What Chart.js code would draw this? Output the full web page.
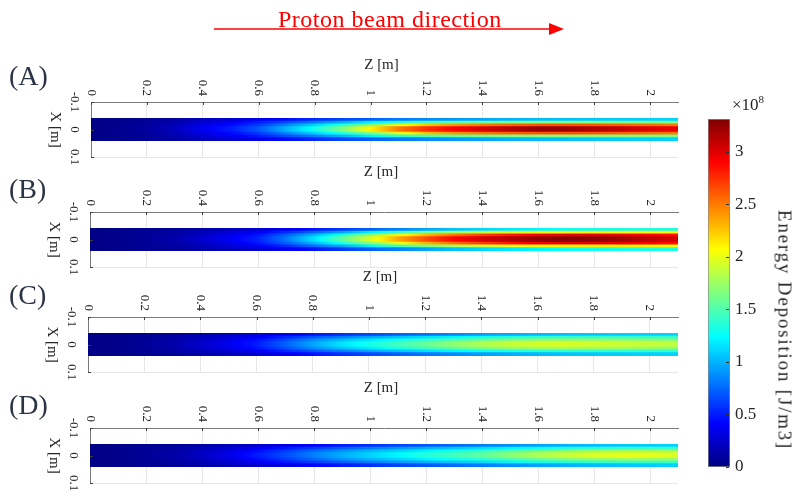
<!DOCTYPE html>
<html>
<head>
<meta charset="utf-8">
<script src="https://cdn.jsdelivr.net/npm/chart.js@4.4.0/dist/chart.umd.min.js"></script>
<style>
html, body { margin: 0; padding: 0; background: #fff; }
#wrap { position: relative; width: 795px; height: 493px; overflow: hidden; font-family: "Liberation Serif", serif; }
#wrap canvas { position: absolute; left: 0; top: 0; }
.txt { position: absolute; white-space: nowrap; }
#title { left: 278px; top: 7px; font-size: 24px; line-height: 24px; color: #ff0000; letter-spacing: 0.5px; }
#exp { left: 732px; top: 96px; font-size: 17px; line-height: 17px; color: #262626; }
#exp span { font-size: 11px; position: relative; top: -7px; }
#cbl { left: 785px; top: 330px; font-size: 19px; line-height: 19px; color: #262626; letter-spacing: 1.8px;
       transform: translate(-50%, -50%) rotate(90deg); }
</style>
</head>
<body>
<div id="wrap">
  <canvas id="pA" width="795" height="493"></canvas>
  <canvas id="pB" width="795" height="493"></canvas>
  <canvas id="pC" width="795" height="493"></canvas>
  <canvas id="pD" width="795" height="493"></canvas>
  <canvas id="cbar" width="795" height="493"></canvas>
  <svg width="795" height="60" style="position:absolute;left:0;top:0">
    <line x1="214" y1="29" x2="552" y2="29" stroke="#ff0000" stroke-width="1.5"/>
    <polygon points="549,23 564,29 549,35" fill="#ff0000"/>
  </svg>
  <div class="txt" id="title">Proton beam direction</div>
  <div class="txt" id="exp">×10<span>8</span></div>
  <div class="txt" id="cbl">Energy Deposition [J/m3]</div>
</div>
<script>
// Z positions (m) where the beam was sampled
const zPos = [0, 0.1, 0.2, 0.3, 0.4, 0.5, 0.6, 0.7, 0.8, 0.9, 1.0, 1.1, 1.2, 1.3, 1.4, 1.5, 1.6, 1.7, 1.8, 1.9, 2.0, 2.1];
// transverse row centres |X| (m), centre -> edge, mirrored about X = 0
const xRows = [0.005, 0.015, 0.025, 0.035];
const zTicks = [0, 0.2, 0.4, 0.6, 0.8, 1, 1.2, 1.4, 1.6, 1.8, 2];
const xTicks = [-0.1, 0, 0.1];
const cbTicks = [0, 0.5, 1, 1.5, 2, 2.5, 3];
const cbMax = 3.31; // x 1e8 J/m3

// energy deposition (x 1e8 J/m3), one row per xRows entry
const panelA = [
  [0.02, 0.05, 0.1, 0.2, 0.37, 0.5, 0.7, 1.0, 1.3, 1.65, 2.1, 2.5, 2.75, 2.9, 3.02, 3.13, 3.24, 3.22, 3.15, 3.08, 3.0, 2.95],
  [0.02, 0.05, 0.09, 0.18, 0.32, 0.44, 0.6, 0.85, 1.1, 1.35, 1.65, 2.0, 2.25, 2.4, 2.5, 2.58, 2.63, 2.64, 2.62, 2.58, 2.54, 2.5],
  [0.02, 0.04, 0.08, 0.15, 0.27, 0.37, 0.5, 0.66, 0.82, 1.0, 1.2, 1.36, 1.47, 1.55, 1.6, 1.64, 1.66, 1.67, 1.67, 1.66, 1.65, 1.64],
  [0.02, 0.04, 0.07, 0.12, 0.2, 0.27, 0.35, 0.45, 0.55, 0.64, 0.72, 0.8, 0.86, 0.91, 0.95, 0.99, 1.02, 1.04, 1.06, 1.08, 1.09, 1.1]
];
const panelB = [
  [0.02, 0.04, 0.08, 0.14, 0.25, 0.38, 0.52, 0.8, 1.15, 1.55, 1.95, 2.35, 2.65, 2.88, 3.03, 3.14, 3.24, 3.28, 3.25, 3.2, 3.1, 3.02],
  [0.02, 0.04, 0.07, 0.13, 0.22, 0.34, 0.47, 0.72, 1.0, 1.32, 1.68, 2.02, 2.3, 2.52, 2.7, 2.83, 2.93, 2.98, 2.98, 2.94, 2.9, 2.85],
  [0.02, 0.04, 0.07, 0.11, 0.18, 0.28, 0.38, 0.55, 0.75, 0.96, 1.2, 1.43, 1.62, 1.77, 1.9, 1.99, 2.06, 2.1, 2.11, 2.1, 2.08, 2.06],
  [0.02, 0.03, 0.06, 0.09, 0.14, 0.2, 0.27, 0.37, 0.48, 0.6, 0.72, 0.84, 0.95, 1.04, 1.11, 1.17, 1.22, 1.27, 1.3, 1.32, 1.33, 1.33]
];
const panelC = [
  [0.02, 0.04, 0.08, 0.14, 0.24, 0.36, 0.5, 0.72, 0.95, 1.15, 1.3, 1.45, 1.57, 1.7, 1.8, 1.88, 1.93, 1.94, 1.92, 1.9, 1.88, 1.85],
  [0.02, 0.04, 0.07, 0.13, 0.22, 0.33, 0.46, 0.65, 0.86, 1.03, 1.17, 1.3, 1.42, 1.53, 1.62, 1.69, 1.73, 1.75, 1.74, 1.73, 1.71, 1.69],
  [0.02, 0.04, 0.07, 0.11, 0.18, 0.27, 0.38, 0.53, 0.69, 0.82, 0.94, 1.05, 1.14, 1.22, 1.29, 1.34, 1.38, 1.4, 1.41, 1.41, 1.41, 1.4],
  [0.02, 0.03, 0.06, 0.09, 0.14, 0.2, 0.28, 0.37, 0.47, 0.56, 0.64, 0.72, 0.79, 0.86, 0.92, 0.97, 1.01, 1.04, 1.06, 1.08, 1.09, 1.1]
];
const panelD = [
  [0.02, 0.04, 0.08, 0.13, 0.22, 0.34, 0.5, 0.66, 0.83, 0.98, 1.1, 1.22, 1.35, 1.45, 1.55, 1.68, 1.8, 1.88, 1.95, 1.98, 1.98, 1.95],
  [0.02, 0.04, 0.07, 0.12, 0.2, 0.31, 0.45, 0.6, 0.75, 0.89, 1.0, 1.1, 1.21, 1.3, 1.39, 1.5, 1.6, 1.67, 1.73, 1.76, 1.76, 1.74],
  [0.02, 0.04, 0.07, 0.1, 0.17, 0.26, 0.37, 0.49, 0.61, 0.72, 0.82, 0.91, 0.99, 1.07, 1.14, 1.22, 1.29, 1.35, 1.39, 1.42, 1.43, 1.43],
  [0.02, 0.03, 0.06, 0.09, 0.13, 0.19, 0.26, 0.34, 0.42, 0.5, 0.57, 0.64, 0.7, 0.76, 0.82, 0.88, 0.94, 0.99, 1.03, 1.06, 1.08, 1.1]
];

const fmt = v => String(Math.round(v * 10) / 10);
const serif = '"Liberation Serif", "Times New Roman", serif';

// matlab jet colormap
function jet(v) {
  const f = Math.max(0, Math.min(1, v / cbMax));
  const c = t => Math.round(255 * Math.max(0, Math.min(1, t)));
  return 'rgb(' + c(Math.min(4 * f - 1.5, -4 * f + 4.5)) + ',' +
    c(Math.min(4 * f - 0.5, -4 * f + 3.5)) + ',' +
    c(Math.min(4 * f + 0.5, -4 * f + 2.5)) + ')';
}

function rowFill(chart, vals) {
  const x = chart.scales.x;
  const x0 = x.getPixelForValue(zPos[0]);
  const x1 = x.getPixelForValue(zPos[zPos.length - 1]);
  if (!(x1 > x0)) return jet(vals[0]);
  const g = chart.ctx.createLinearGradient(x0, 0, x1, 0);
  for (let i = 0; i < vals.length - 1; i++) {
    for (let s = 0; s < 4; s++) {
      const t = s / 4;
      const z = zPos[i] + (zPos[i + 1] - zPos[i]) * t;
      g.addColorStop((x.getPixelForValue(z) - x0) / (x1 - x0), jet(vals[i] + (vals[i + 1] - vals[i]) * t));
    }
  }
  g.addColorStop(1, jet(vals[vals.length - 1]));
  return g;
}

function beamData(rows) {
  const span = [zPos[0], zPos[zPos.length - 1]];
  const out = [];
  for (let k = rows.length - 1; k >= 0; k--) out.push({ x: span, y: -xRows[k], k: k });
  for (let k = 0; k < rows.length; k++) out.push({ x: span, y: xRows[k], k: k });
  return out;
}

const panelDecor = {
  id: 'panelDecor',
  afterDraw(chart, args, o) {
    const { ctx, chartArea: a, scales: { x, y } } = chart;
    ctx.save();
    ctx.strokeStyle = '#404040';
    ctx.lineWidth = 1;
    ctx.beginPath();
    zTicks.forEach(v => {
      const px = Math.round(x.getPixelForValue(v)) + 0.5;
      ctx.moveTo(px, a.top); ctx.lineTo(px, a.top + 3);
    });
    xTicks.forEach(v => {
      const py = Math.round(y.getPixelForValue(v)) + 0.5;
      ctx.moveTo(a.left, py); ctx.lineTo(a.left + 3, py);
    });
    ctx.stroke();

    ctx.fillStyle = '#262626';
    ctx.font = '13px ' + serif;
    ctx.textBaseline = 'middle';
    zTicks.forEach(v => {
      ctx.save();
      ctx.translate(x.getPixelForValue(v), a.top - 6);
      ctx.rotate(Math.PI / 2);
      ctx.textAlign = 'right';
      ctx.fillText(fmt(v), 0, 0);
      ctx.restore();
    });
    xTicks.forEach(v => {
      ctx.save();
      ctx.translate(a.left - 17, y.getPixelForValue(v));
      ctx.rotate(Math.PI / 2);
      ctx.textAlign = 'center';
      ctx.fillText(fmt(v), 0, 0);
      ctx.restore();
    });

    ctx.font = '15px ' + serif;
    ctx.textAlign = 'center';
    ctx.fillText('Z [m]', (a.left + a.right) / 2 - 3, a.top - o.zGap);
    ctx.save();
    ctx.translate(a.left - 36, (a.top + a.bottom) / 2);
    ctx.rotate(Math.PI / 2);
    ctx.fillText('X [m]', 0, 0);
    ctx.restore();

    ctx.fillStyle = '#2b3445';
    ctx.font = '28px ' + serif;
    ctx.textAlign = 'left';
    ctx.fillText(o.letter, 9, o.letterY);
    ctx.restore();
  }
};

function makePanel(id, rows, box, letter, letterY, zGap) {
  new Chart(document.getElementById(id), {
    type: 'bar',
    data: {
      datasets: [{
        data: beamData(rows),
        backgroundColor: c => c.raw ? rowFill(c.chart, rows[c.raw.k]) : 'transparent',
        borderWidth: 0,
        inflateAmount: 0.6,
        barPercentage: 1,
        categoryPercentage: 1
      }]
    },
    options: {
      indexAxis: 'y',
      responsive: false,
      animation: false,
      events: [],
      layout: { padding: { left: box[0], right: 795 - box[1], top: box[2], bottom: 493 - box[3] } },
      plugins: {
        legend: { display: false },
        tooltip: { enabled: false },
        panelDecor: { letter: letter, letterY: letterY, zGap: zGap }
      },
      scales: {
        x: {
          type: 'linear', position: 'top', min: 0, max: 2.1,
          ticks: { display: false, stepSize: 0.2, includeBounds: false },
          grid: { color: '#e6e6e6', drawTicks: false },
          border: { color: '#7a7a7a' },
          afterFit: s => { s.height = 0; }
        },
        y: {
          type: 'linear', reverse: true, min: -0.1, max: 0.1, offset: false,
          ticks: { display: false, stepSize: 0.1 },
          grid: { color: '#e6e6e6', drawTicks: false, offset: false },
          border: { color: '#7a7a7a' },
          afterFit: s => { s.width = 0; }
        }
      }
    },
    plugins: [panelDecor]
  });
}

makePanel('pA', panelA, [91, 678, 102, 157], '(A)', 78, 37);
makePanel('pB', panelB, [90, 678, 212, 267], '(B)', 191, 40);
makePanel('pC', panelC, [88, 678, 317, 372], '(C)', 297, 40);
makePanel('pD', panelD, [90, 678, 428, 483], '(D)', 407, 40);

// colorbar ticks and labels (scale box is zero wide, so labels are drawn here)
const cbDecor = {
  id: 'cbDecor',
  afterDraw(chart) {
    const { ctx, chartArea: a, scales: { y } } = chart;
    ctx.save();
    ctx.strokeStyle = '#303030';
    ctx.beginPath();
    cbTicks.forEach(v => {
      const py = Math.round(y.getPixelForValue(v)) + 0.5;
      ctx.moveTo(a.right - 1, py); ctx.lineTo(a.right - 4, py);
    });
    ctx.stroke();
    ctx.fillStyle = '#262626';
    ctx.font = '17px ' + serif;
    ctx.textAlign = 'left';
    ctx.textBaseline = 'middle';
    cbTicks.forEach(v => ctx.fillText(fmt(v), a.right + 5, y.getPixelForValue(v)));
    ctx.restore();
  }
};

new Chart(document.getElementById('cbar'), {
  type: 'bar',
  data: {
    labels: [''],
    datasets: [{
      data: [[0, cbMax]],
      backgroundColor: c => {
        const y = c.chart.scales.y;
        const y0 = y.getPixelForValue(0), y1 = y.getPixelForValue(cbMax);
        if (!(y0 > y1)) return jet(0);
        const g = c.chart.ctx.createLinearGradient(0, y0, 0, y1);
        for (let i = 0; i <= 64; i++) g.addColorStop(i / 64, jet(cbMax * i / 64));
        return g;
      },
      borderColor: '#8a8a8a',
      borderWidth: 1,
      borderSkipped: false,
      barPercentage: 1,
      categoryPercentage: 1
    }]
  },
  options: {
    responsive: false,
    animation: false,
    events: [],
    layout: { padding: { left: 708, right: 65, top: 119, bottom: 26 } },
    plugins: { legend: { display: false }, tooltip: { enabled: false } },
    scales: {
      x: { display: false },
      y: {
        position: 'right', min: 0, max: cbMax,
        ticks: { display: false, stepSize: 0.5, includeBounds: false },
        grid: { display: false, drawTicks: false },
        border: { display: false },
        afterFit: s => { s.width = 0; }
      }
    }
  },
  plugins: [cbDecor]
});
</script>
</body>
</html>
